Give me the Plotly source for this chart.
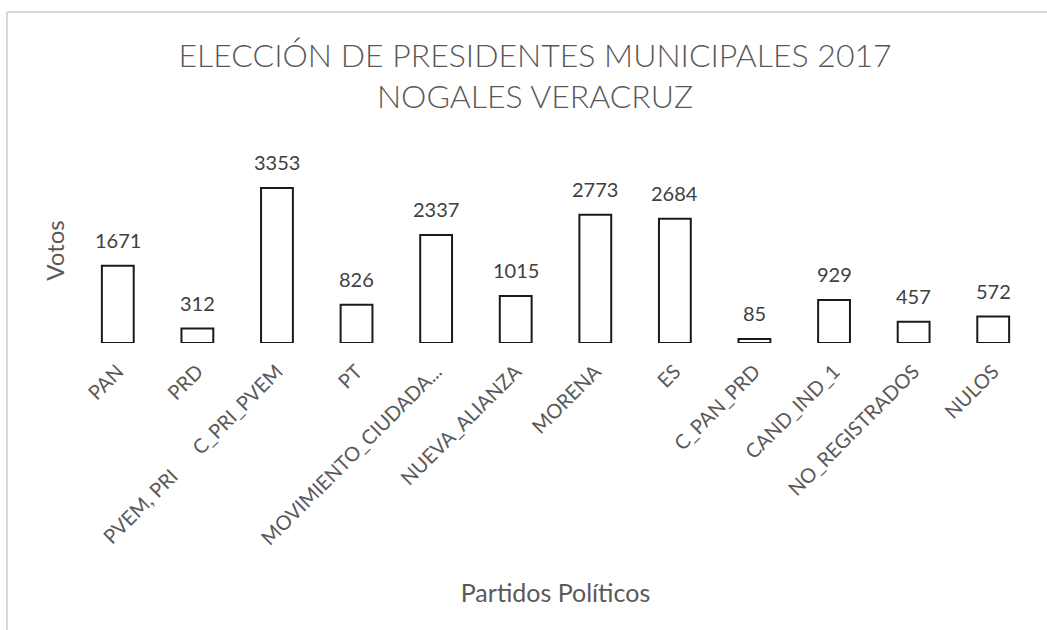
import plotly.graph_objects as go

categories = ["PAN", "PRD", "C_PRI_PVEM", "PT", "MOVIMIENTO_CIUDADA...", "NUEVA_ALIANZA",
              "MORENA", "ES", "C_PAN_PRD", "CAND_IND_1", "NO_REGISTRADOS", "NULOS"]
tick_labels = ["PAN", "PRD", "PVEM, PRI\u00a0\u00a0\u00a0\u00a0\u00a0\u00a0C_PRI_PVEM", "PT", "MOVIMIENTO_CIUDADA...",
               "NUEVA_ALIANZA", "MORENA", "ES", "C_PAN_PRD", "CAND_IND_1", "NO_REGISTRADOS", "NULOS"]
votos = [1671, 312, 3353, 826, 2337, 1015, 2773, 2684, 85, 929, 457, 572]

FONT = "Lato"

fig = go.Figure()
fig.add_trace(go.Bar(
    x=categories, y=votos,
    marker=dict(color="white", line=dict(color="#1a1a1a", width=2)),
    width=0.4,
    hoverinfo="x+y",
))

for c, v in zip(categories, votos):
    fig.add_annotation(x=c, y=v, text=str(v), showarrow=False, yanchor="bottom",
                       yshift=12, font=dict(family=FONT, size=20, color="#404040"))

fig.update_layout(
    width=1047, height=630,
    paper_bgcolor="white", plot_bgcolor="white",
    margin=dict(l=78, r=14, t=158, b=287),
    showlegend=False,
    title=dict(text="ELECCIÓN DE PRESIDENTES MUNICIPALES 2017<br>NOGALES VERACRUZ",
               x=0.511, xanchor="center", y=0.894, yanchor="top",
               font=dict(family=FONT, size=32, color="#595959", weight=300)),
    xaxis=dict(tickmode="array", tickvals=categories, ticktext=tick_labels,
               tickangle=-45, tickfont=dict(family=FONT, size=20, color="#595959"),
               showline=False, showgrid=False, zeroline=False, ticks="",
               ticklabelstandoff=12, automargin=False,
               title=dict(text="Partidos Políticos", font=dict(family=FONT, size=25, color="#595959"),
                          standoff=36)),
    yaxis=dict(range=[0, 4000], showticklabels=False, showgrid=False, zeroline=False,
               showline=False, ticks="", automargin=False,
               title=dict(text="Votos", font=dict(family=FONT, size=24, color="#595959"), standoff=5)),
    shapes=[
        dict(type="line", xref="paper", yref="paper", x0=-0.0743, x1=1.03, y0=1.789, y1=1.789,
             line=dict(color="#d9d9d9", width=2)),
        dict(type="line", xref="paper", yref="paper", x0=-0.0743, x1=-0.0743, y0=1.789, y1=-1.6,
             line=dict(color="#d9d9d9", width=2)),
    ],
)

fig.write_html("out.html", config={"displayModeBar": False},
               post_script="document.body.style.margin='0';")
